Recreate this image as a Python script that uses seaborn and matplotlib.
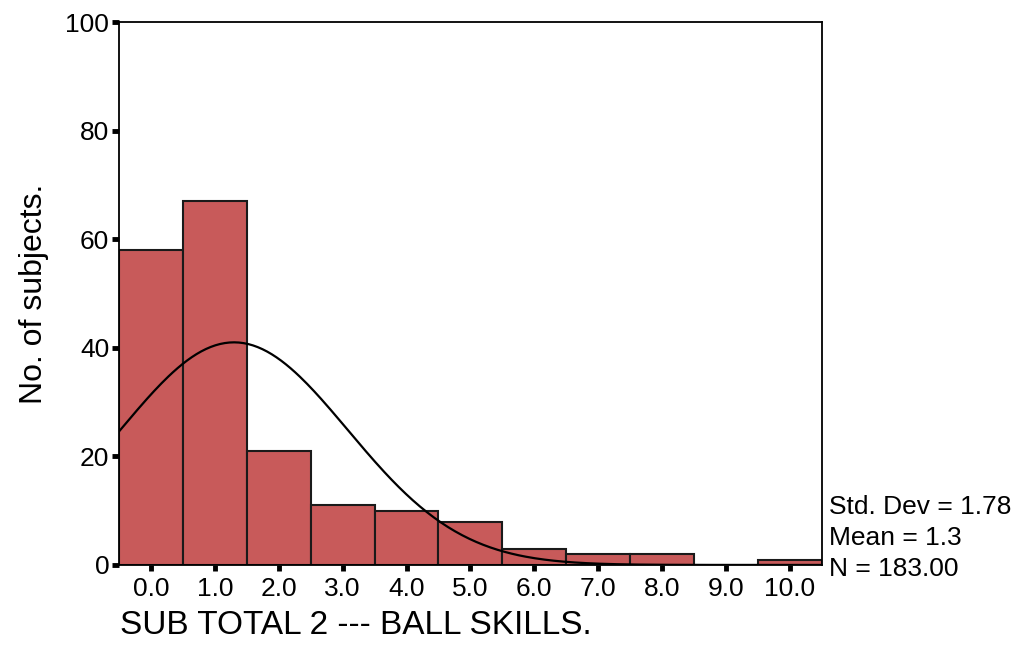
import numpy as np
import pandas as pd
import matplotlib
matplotlib.use("Agg")
import matplotlib.pyplot as plt
import seaborn as sns

# -----------------------------
# DATA
# -----------------------------
scores = [0, 1, 2, 3, 4, 5, 6, 7, 8, 9, 10]
counts = [58, 67, 21, 11, 10, 8, 3, 2, 2, 0, 1]
tick_labels = ["0.0", "1.0", "2.0", "3.0", "4.0", "5.0", "6.0", "7.0", "8.0", "9.0", "10.0"]

std_dev = 1.78
mean = 1.3
n_total = 183

df = pd.DataFrame({"score": scores, "count": counts})

# -----------------------------
# STYLE
# -----------------------------
sns.set_style("white")
plt.rcParams["font.family"] = ["Liberation Sans", "DejaVu Sans"]
plt.rcParams["text.color"] = "black"

fig = plt.figure(figsize=(10.26, 6.71), dpi=100)
ax = fig.add_axes([0.116, 0.158, 0.685, 0.809])

sns.histplot(
    data=df, x="score", weights="count", discrete=True,
    color="#c85a5a", edgecolor="#1a1a1a", linewidth=1.5, alpha=1.0, ax=ax
)

# normal curve scaled to counts (bin width = 1)
xs = np.linspace(-0.5, 10.5, 300)
ys = n_total / (std_dev * np.sqrt(2 * np.pi)) * np.exp(-0.5 * ((xs - mean) / std_dev) ** 2)
sns.lineplot(x=xs, y=ys, color="black", linewidth=1.6, ax=ax)

ax.set_xlim(-0.5, 10.5)
ax.set_ylim(0, 100)
ax.set_xticks(scores)
ax.set_xticklabels(tick_labels)
ax.set_yticks([0, 20, 40, 60, 80, 100])
ax.tick_params(axis="both", bottom=True, left=True, direction="out", length=4,
               width=3.5, color="black", labelcolor="black", labelsize=19)
ax.tick_params(axis="x", length=4, pad=5)
ax.tick_params(axis="y", length=5, pad=2)

for s in ax.spines.values():
    s.set_visible(True)
    s.set_color("black")
    s.set_linewidth(1.3)

ax.set_xlabel("")
ax.set_ylabel("No. of subjects.", fontsize=23, labelpad=12, color="black")

fig.text(0.117, 0.068, "SUB TOTAL 2 --- BALL SKILLS.", fontsize=24, ha="left", va="center")

stats = [f"Std. Dev = {std_dev:.2f}", f"Mean = {mean:.1f}", f"N = {n_total:.2f}"]
for i, line in enumerate(stats):
    ax.text(1.01, 0.107 - i * 0.057, line, transform=ax.transAxes,
            fontsize=19, ha="left", va="center")

fig.savefig("out.png", dpi=100)
